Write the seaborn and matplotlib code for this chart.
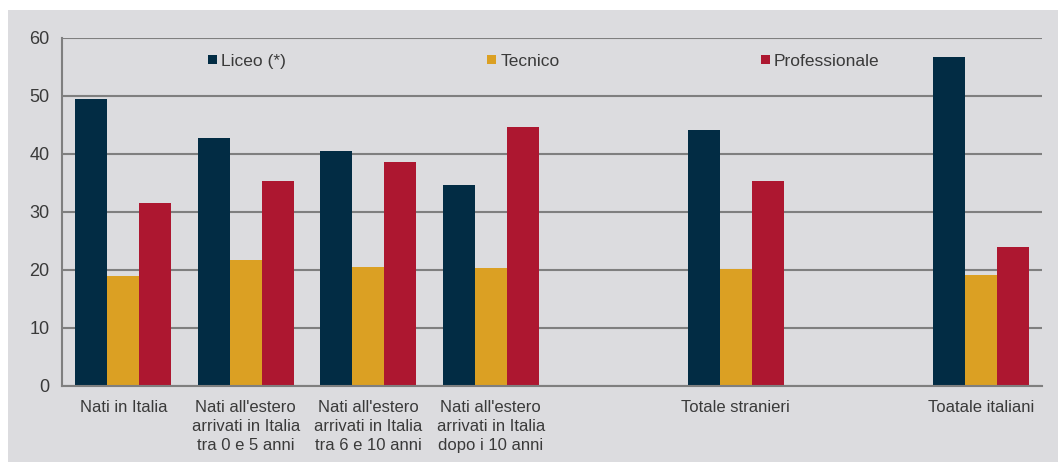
import matplotlib
matplotlib.use("Agg")
import matplotlib.pyplot as plt
from matplotlib.patches import Patch, Rectangle
import seaborn as sns
import pandas as pd
import numpy as np

# Categories (two blank slots separate the totals)
categories = [
    "Nati in Italia",
    "Nati all'estero\narrivati in Italia\ntra 0 e 5 anni",
    "Nati all'estero\narrivati in Italia\ntra 6 e 10 anni",
    "Nati all'estero\narrivati in Italia\ndopo i 10 anni",
    "",
    "Totale stranieri",
    " ",
    "Toatale italiani",
]
series = ["Liceo (*)", "Tecnico", "Professionale"]
liceo = [49.4, 42.7, 40.5, 34.7, None, 44.2, None, 56.7]
tecnico = [18.9, 21.7, 20.5, 20.3, None, 20.1, None, 19.2]
professionale = [31.5, 35.3, 38.7, 44.7, None, 35.4, None, 23.9]
colors = ["#022c44", "#dba023", "#ad1730"]

rows = []
for cat, a, b, c in zip(categories, liceo, tecnico, professionale):
    if a is None:
        continue
    for s, v in zip(series, (a, b, c)):
        rows.append({"categoria": cat, "tipo": s, "valore": v})
df = pd.DataFrame(rows)

sns.set_theme(style="white")
plt.rcParams["font.family"] = ["Liberation Sans", "DejaVu Sans"]
text_color = "#3a3a3a"
grid_color = "#7f7f7f"
panel_color = "#dcdcdf"

fig = plt.figure(figsize=(10.58, 4.62), dpi=100, facecolor="white")
fig.patches.append(Rectangle((8 / 1058, 0), 1, 1 - 10 / 462, transform=fig.transFigure,
                             facecolor=panel_color, edgecolor="none", zorder=-10))
ax = fig.add_axes([62 / 1058, 76 / 462, 980 / 1058, 348 / 462])
ax.set_facecolor(panel_color)

sns.barplot(data=df, x="categoria", y="valore", hue="tipo", order=categories,
            hue_order=series, palette=colors, width=0.785, saturation=1,
            linewidth=0, ax=ax, legend=False, zorder=3)

ax.set_xlim(-0.5, len(categories) - 0.5)
ax.set_ylim(0, 60)
ax.set_yticks(range(0, 61, 10))
ax.set_xticks(range(len(categories)))
ax.set_xticklabels(categories, fontsize=12, color=text_color, linespacing=1.33)
ax.set_xticks(np.arange(-0.5, len(categories), 1.0), minor=True)
ax.tick_params(axis="x", which="major", length=0, pad=10)
ax.tick_params(axis="x", which="minor", length=5, width=1.2, color=grid_color, direction="out")
ax.tick_params(axis="y", length=5, width=1.2, color=grid_color, direction="out",
               labelsize=13, labelcolor=text_color, pad=4)
ax.set_xlabel("")
ax.set_ylabel("")

ax.yaxis.grid(True, color=grid_color, linewidth=1.5)
ax.set_axisbelow(True)
for side in ("top", "right"):
    ax.spines[side].set_visible(False)
for side in ("left", "bottom"):
    ax.spines[side].set_color(grid_color)
    ax.spines[side].set_linewidth(1.5)
ax.spines["bottom"].set_zorder(4)

handles = [Patch(facecolor=c, edgecolor="none") for c in colors]
leg = ax.legend(handles, series, ncol=3, loc="upper left", bbox_to_anchor=(0.133, 1.0),
                frameon=False, fontsize=12.5, handlelength=0.5, handleheight=0.5,
                handletextpad=0.25, columnspacing=11.6, labelcolor=text_color)

fig.savefig("out.png", dpi=100, facecolor="white")
